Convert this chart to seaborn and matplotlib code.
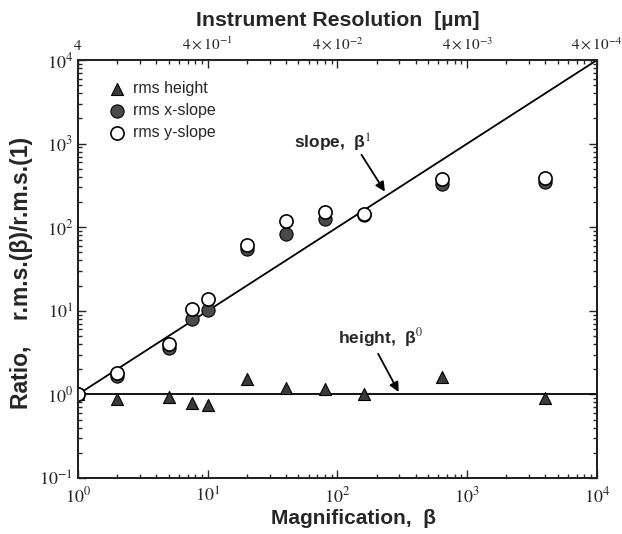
import matplotlib
matplotlib.use("Agg")
import matplotlib.pyplot as plt
import pandas as pd
import seaborn as sns
from matplotlib.ticker import LogLocator, NullFormatter

# Ratio of rms values at magnification beta to those at beta = 1
magnification = [1, 2, 5, 7.5, 10, 20, 40, 80, 160, 640, 4000]
rms_height = [1.0, 0.89, 0.94, 0.78, 0.75, 1.54, 1.19, 1.15, 1.0, 1.63, 0.91]
rms_x_slope = [1.0, 1.66, 3.55, 7.9, 10.1, 55, 84, 126, 140, 325, 345]
rms_y_slope = [1.0, 1.78, 3.96, 10.6, 13.8, 62, 118, 152, 145, 373, 391]

# Reference power laws: slope ~ beta^1, height ~ beta^0
guide_beta = [1, 10000]
slope_guide = [1, 10000]
height_guide = [1, 1]

beta_ticks = [1, 10, 100, 1000, 10000]
beta_labels = [r"$10^{0}$", r"$10^{1}$", r"$10^{2}$", r"$10^{3}$", r"$10^{4}$"]
ratio_ticks = [0.1, 1, 10, 100, 1000, 10000]
ratio_labels = [r"$10^{-1}$", r"$10^{0}$", r"$10^{1}$", r"$10^{2}$", r"$10^{3}$", r"$10^{4}$"]
resolution_labels = [r"$4$", r"$4\times10^{-1}$", r"$4\times10^{-2}$",
                     r"$4\times10^{-3}$", r"$4\times10^{-4}$"]

sns.set_theme(style="ticks")
plt.rcParams["font.family"] = ["Liberation Sans", "DejaVu Sans"]
plt.rcParams["mathtext.fontset"] = "stix"

df = pd.DataFrame({
    "beta": magnification,
    "height": rms_height,
    "xslope": rms_x_slope,
    "yslope": rms_y_slope,
})
guides = pd.DataFrame({"beta": guide_beta, "slope": slope_guide, "height": height_guide})

fig = plt.figure(figsize=(6.22, 5.34), dpi=100)
ax = fig.add_axes([0.1254, 0.1049, 0.8344, 0.7827])

sns.lineplot(data=guides, x="beta", y="slope", ax=ax, color="black", lw=1.3, zorder=2)
sns.lineplot(data=guides, x="beta", y="height", ax=ax, color="black", lw=1.3, zorder=2)

sns.scatterplot(data=df, x="beta", y="height", ax=ax, marker="^", s=75,
                color="#3a3a3a", edgecolor="black", linewidth=0.8, zorder=3,
                label="rms height")
sns.scatterplot(data=df, x="beta", y="xslope", ax=ax, marker="o", s=90,
                color="#4a4a4a", edgecolor="black", linewidth=0.8, zorder=4,
                label="rms x-slope")
sns.scatterplot(data=df, x="beta", y="yslope", ax=ax, marker="o", s=90,
                color="white", edgecolor="black", linewidth=1.2, zorder=5,
                label="rms y-slope")

ax.set_xscale("log")
ax.set_yscale("log")
ax.set_xlim(1, 10000)
ax.set_ylim(0.1, 10000)

ax.set_xticks(beta_ticks)
ax.set_xticklabels(beta_labels)
ax.set_yticks(ratio_ticks)
ax.set_yticklabels(ratio_labels)
ax.xaxis.set_minor_locator(LogLocator(base=10, subs=range(2, 10), numticks=20))
ax.yaxis.set_minor_locator(LogLocator(base=10, subs=range(2, 10), numticks=20))
ax.xaxis.set_minor_formatter(NullFormatter())
ax.yaxis.set_minor_formatter(NullFormatter())
ax.tick_params(which="both", direction="in", right=True, labelsize=13, width=1.0)
ax.tick_params(axis="x", which="major", pad=6)
ax.tick_params(which="major", length=6)
ax.tick_params(which="minor", length=3)
for sp in ax.spines.values():
    sp.set_linewidth(1.4)
    sp.set_color("black")

ax.set_xlabel("Magnification,  β", fontsize=15, fontweight="bold")
ax.xaxis.set_label_coords(0.53, -0.075)
ax.set_ylabel("Ratio,    r.m.s.(β)/r.m.s.(1)", fontsize=16.5, fontweight="bold")
ax.yaxis.set_label_coords(-0.087, 0.49)

# Top axis: instrument resolution corresponding to each magnification
top = ax.twiny()
top.set_xscale("log")
top.set_xlim(ax.get_xlim())
top.set_xticks(beta_ticks)
top.set_xticklabels(resolution_labels)
top.xaxis.set_minor_locator(LogLocator(base=10, subs=range(2, 10), numticks=20))
top.xaxis.set_minor_formatter(NullFormatter())
top.tick_params(which="both", direction="in", labelsize=11, width=1.0)
top.tick_params(which="major", length=6, pad=5)
top.tick_params(which="minor", length=3)
top.set_xlabel("Instrument Resolution  [µm]", fontsize=15.3, fontweight="bold", labelpad=7)
top.spines["top"].set_linewidth(1.4)

ax.legend(loc="upper left", bbox_to_anchor=(0.048, 0.965), frameon=False,
          fontsize=11.5, handletextpad=0.5, labelspacing=0.45, borderaxespad=0.0,
          handlelength=1.0)

# Labelled arrows pointing at the two power laws
ax.text(92, 1033, "slope,  β$^1$", fontsize=12.5, fontweight="bold",
        ha="center", va="center")
ax.annotate("", xy=(238, 250), xytext=(149, 785),
            arrowprops=dict(arrowstyle="-|>", color="black", lw=1.3,
                            mutation_scale=14))
ax.text(213, 4.8, "height,  β$^0$", fontsize=12.5, fontweight="bold",
        ha="center", va="center")
ax.annotate("", xy=(303, 1.0), xytext=(201, 3.27),
            arrowprops=dict(arrowstyle="-|>", color="black", lw=1.3,
                            mutation_scale=14))

fig.savefig("out.png", dpi=100)
